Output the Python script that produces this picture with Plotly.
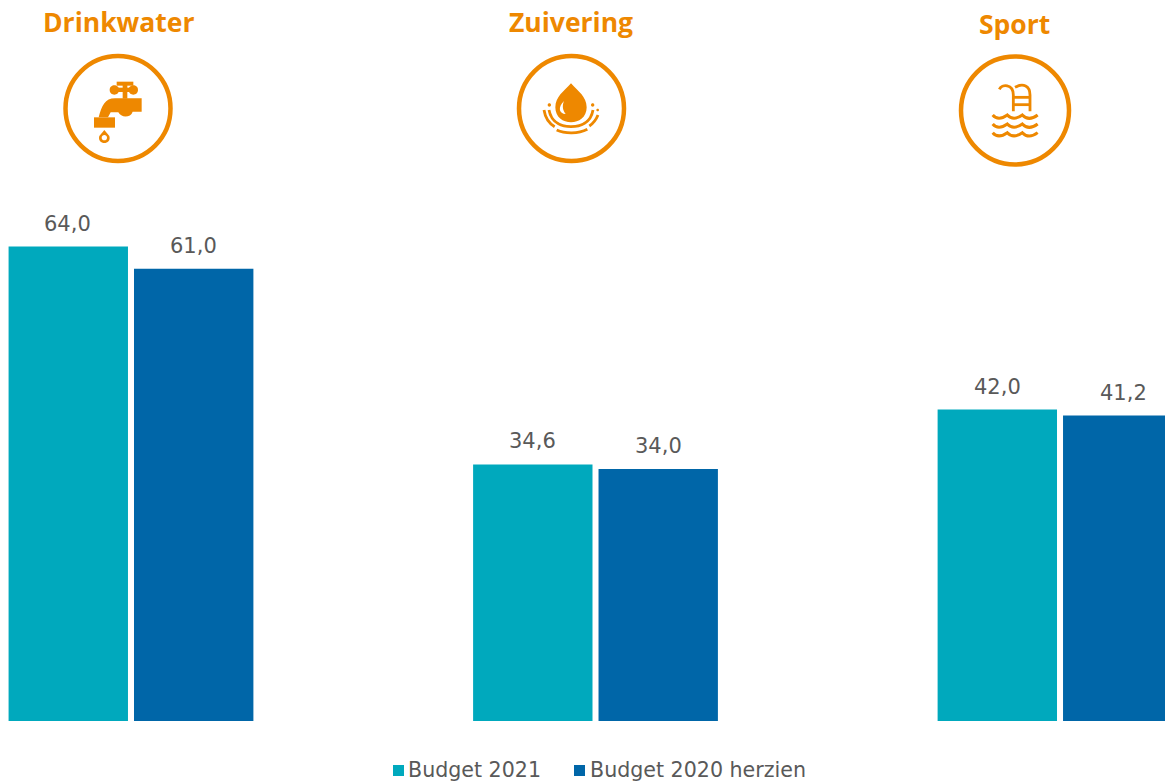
import re
import plotly.graph_objects as go

# figure size of the reference
W = 1165
H = 781

categories = ["Drinkwater", "Zuivering", "Sport"]
budget_2021 = [64.0, 34.6, 42.0]
budget_2020 = [61.0, 34.0, 41.2]
series_names = ["Budget 2021", "Budget 2020 herzien"]

ORANGE = "#EE8800"
TEAL = "#00A9BD"
BLUE = "#0066A8"
GREY = "#595959"
FONT = "DejaVu Sans"


def icon_path(d, ox):
    def conv(m):
        x = float(m.group(1)) / 3 + ox
        y = float(m.group(2)) / 3
        return f"{x / W:.5f},{1 - y / H:.5f}"
    return re.sub(r"(-?[\d.]+),(-?[\d.]+)", conv, d)


def filled(d, ox, color=ORANGE):
    return dict(type="path", xref="paper", yref="paper", path=icon_path(d, ox),
                fillcolor=color, line=dict(width=0), layer="above")


def stroked(d, ox, width=2.8):
    return dict(type="path", xref="paper", yref="paper", path=icon_path(d, ox),
                line=dict(color=ORANGE, width=width), layer="above")


def ring(cx, cy, r):
    return dict(type="circle", xref="paper", yref="paper",
                x0=(cx - r) / W, x1=(cx + r) / W,
                y0=1 - (cy + r) / H, y1=1 - (cy - r) / H,
                line=dict(color=ORANGE, width=4.5))


def dot(cx, cy, r, ox, color=ORANGE):
    d = (f"M{cx - r},{cy} C{cx - r},{cy - r * 1.33} {cx + r},{cy - r * 1.33} {cx + r},{cy} "
         f"C{cx + r},{cy + r * 1.33} {cx - r},{cy + r * 1.33} {cx - r},{cy} Z")
    return filled(d, ox, color)


shapes = [ring(118, 108.5, 52.5), ring(571.5, 108.5, 52.5), ring(1015, 110.5, 54)]

# kraan
OX = 50
shapes += [
    filled("M200,245 L250,245 L250,257 L200,257 Z", OX),
    filled("M218,250 L232,250 L232,296 L218,296 Z", OX),
    filled("M195,263 L250,263 L250,276 L195,276 Z", OX),
    dot(193, 270, 14, OX),
    dot(250, 270, 14, OX),
    filled("M146,352 C155,318 165,295 195,295 L275,295 L275,335 L248,335 "
           "C242,354 213,354 205,337 L182,337 L174,352 Z", OX),
    filled("M132,352 L195,352 L195,383 L132,383 Z", OX),
    filled("M163,390 L178,408 C186,436 140,436 148,408 Z", OX),
    dot(163, 413, 8, OX, "white"),
]

# druppel
OX = 500
shapes += [
    filled("M213,250 C235,275 260,290 260,322 C260,382 166,382 166,322 C166,290 191,275 213,250 Z", OX),
    filled("M192,303 C172,322 178,342 197,342 C188,330 186,318 192,303 Z", OX, "white"),
    stroked("M147,330 C155,372 190,380 213,380 C240,380 272,370 279,330", OX),
    stroked("M132,330 C136,355 150,372 164,380", OX),
    stroked("M170,390 C195,402 235,402 262,388", OX),
    stroked("M268,378 C280,370 290,355 294,345", OX),
    dot(148, 315, 5, OX),
    dot(278, 315, 5, OX),
    dot(293, 330, 4, OX),
]

# zwembad
OX = 945
shapes += [
    stroked("M163,268 C170,252 205,250 205,285 L205,334", OX),
    stroked("M210,262 C235,248 255,258 255,285 L255,334", OX),
    stroked("M205,292 L255,292", OX),
    stroked("M205,314 L255,314", OX),
]
for wy in (345, 372, 398):
    shapes.append(stroked(
        f"M143,{wy} C155,{wy + 14} 170,{wy + 12} 187,{wy} C200,{wy + 14} 215,{wy + 12} 232,{wy} "
        f"C245,{wy + 14} 262,{wy + 12} 278,{wy}", OX, 3))

# legenda
shapes += [
    dict(type="rect", xref="paper", yref="paper", x0=393 / W, x1=404 / W,
         y0=1 - 776 / H, y1=1 - 765 / H, fillcolor=TEAL, line=dict(width=0)),
    dict(type="rect", xref="paper", yref="paper", x0=574 / W, x1=585 / W,
         y0=1 - 776 / H, y1=1 - 765 / H, fillcolor=BLUE, line=dict(width=0)),
]

annotations = []
for name, px_x, px_y in zip(categories, [118, 571, 1014.5], [22, 22, 24]):
    annotations.append(dict(x=px_x / W, y=1 - px_y / H, xref="paper", yref="paper", text=f"<b>{name}</b>",
                            showarrow=False, xanchor="center", yanchor="middle",
                            font=dict(family="Open Sans", size=26.5, color=ORANGE)))
for name, px_x in zip(series_names, [408, 590]):
    annotations.append(dict(x=px_x / W, y=1 - 770 / H, xref="paper", yref="paper", text=name,
                            showarrow=False, xanchor="left", yanchor="middle",
                            xshift=-2, font=dict(family=FONT, size=20.6, color=GREY)))

# value labels sit further above the bars than textposition="outside" allows
for values, shift in zip([budget_2021, budget_2020], [-63, 63]):
    for cat, val in zip(categories, values):
        annotations.append(dict(x=cat, y=val, xref="x", yref="y", text=f"{val:.1f}".replace(".", ","),
                                showarrow=False, xanchor="center", yanchor="bottom",
                                xshift=shift, yshift=9,
                                font=dict(family=FONT, size=21, color=GREY)))

fig = go.Figure()
for name, values, color in zip(series_names, [budget_2021, budget_2020], [TEAL, BLUE]):
    fig.add_trace(go.Bar(
        x=categories,
        y=values,
        name=name,
        marker=dict(color=color, line=dict(width=0)),
    ))

fig.update_layout(
    width=W,
    height=H,
    margin=dict(l=0, r=0, t=0, b=0),
    autosize=False,
    barmode="group",
    bargap=0.46,
    bargroupgap=0.048,
    showlegend=False,
    plot_bgcolor="white",
    paper_bgcolor="white",
    shapes=shapes,
    annotations=annotations,
    xaxis=dict(visible=False, range=[-0.282, 2.226]),
    yaxis=dict(visible=False, range=[0, 97.25], domain=[60 / H, 1]),
)

# drop the page's default body margin so the figure starts at the window corner
fig.write_html("out.html", config=dict(displayModeBar=False),
               post_script="document.body.style.margin='0';")
